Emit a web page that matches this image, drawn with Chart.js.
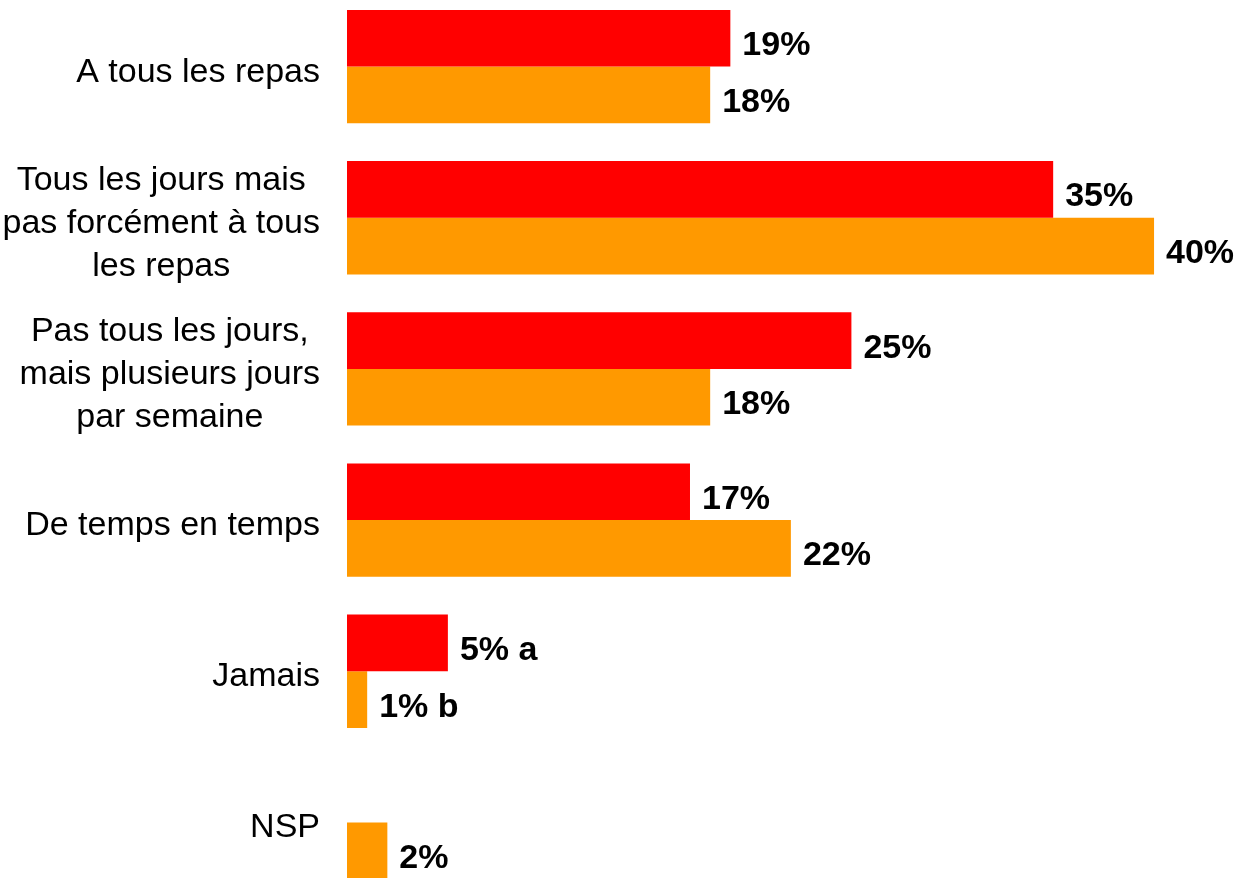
<!DOCTYPE html>
<html>
<head>
<meta charset="utf-8">
<script src="https://cdn.jsdelivr.net/npm/chart.js@4/dist/chart.umd.min.js"></script>
<style>
  html, body { margin: 0; padding: 0; background: #fff; overflow: hidden; }
  body { width: 1240px; height: 878px; position: relative; }
  #wrap { position: absolute; left: 0; top: -9px; width: 1240px; height: 907px; }
</style>
</head>
<body>
<div id="wrap"><canvas id="chart"></canvas></div>
<script>
// Data
const categories = [
    ['A tous les repas'],
    ['Tous les jours mais', 'pas forcément à tous', 'les repas'],
    ['Pas tous les jours,', 'mais plusieurs jours', 'par semaine'],
    ['De temps en temps'],
    ['Jamais'],
    ['NSP']
];
const seriesRed = [19, 35, 25, 17, 5, null];
const seriesOrange = [18, 40, 18, 22, 1, 2];
const suffixRed = ['', '', '', '', ' a', ''];
const suffixOrange = ['', '', '', '', ' b', ''];
const xMax = 44.26;

// category labels: block centred, block right-aligned to the bars
const categoryLabels = {
    id: 'categoryLabels',
    afterDraw(chart) {
        const ctx = chart.ctx;
        const yScale = chart.scales.y;
        const right = 320;
        const lineH = 43;
        ctx.save();
        ctx.font = '34px "Liberation Sans", Arial, sans-serif';
        ctx.fillStyle = '#000';
        ctx.textAlign = 'center';
        ctx.textBaseline = 'alphabetic';
        categories.forEach((lines, i) => {
            const yc = yScale.getPixelForValue(i) + 15;
            const w = Math.max(...lines.map(l => ctx.measureText(l).width));
            const xc = right - w / 2;
            const y0 = yc - (lines.length - 1) * lineH / 2;
            lines.forEach((l, j) => ctx.fillText(l, xc, y0 + j * lineH));
        });
        ctx.restore();
    }
};

// value labels at the end of each bar
const valueLabels = {
    id: 'valueLabels',
    afterDatasetsDraw(chart) {
        const ctx = chart.ctx;
        ctx.save();
        ctx.font = 'bold 34px "Liberation Sans", Arial, sans-serif';
        ctx.fillStyle = '#000';
        ctx.textAlign = 'left';
        ctx.textBaseline = 'alphabetic';
        const suffixes = [suffixRed, suffixOrange];
        chart.data.datasets.forEach((ds, di) => {
            const meta = chart.getDatasetMeta(di);
            meta.data.forEach((bar, i) => {
                const v = ds.data[i];
                if (v === null || v === undefined) return;
                ctx.fillText(v + '%' + suffixes[di][i], bar.x + 12, bar.y + 17);
            });
        });
        ctx.restore();
    }
};

new Chart(document.getElementById('chart'), {
    type: 'bar',
    data: {
        labels: categories.map(c => c.join(' ')),
        datasets: [
            { data: seriesRed, backgroundColor: '#FF0000', barPercentage: 1, categoryPercentage: 0.75 },
            { data: seriesOrange, backgroundColor: '#FF9900', barPercentage: 1, categoryPercentage: 0.75 }
        ]
    },
    options: {
        indexAxis: 'y',
        responsive: true,
        maintainAspectRatio: false,
        animation: false,
        layout: { padding: { left: 347, right: 0, top: 0, bottom: 0 } },
        plugins: {
            legend: { display: false },
            tooltip: { enabled: false }
        },
        scales: {
            x: { display: false, min: 0, max: xMax },
            y: { display: false }
        }
    },
    plugins: [categoryLabels, valueLabels]
});
</script>
</body>
</html>
